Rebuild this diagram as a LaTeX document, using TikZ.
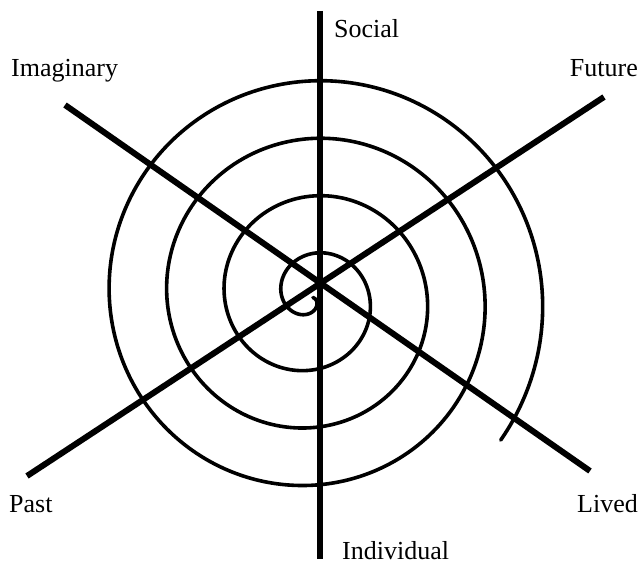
\documentclass[tikz,border=0pt]{standalone}
\usepackage{fontspec}
\setmainfont{Liberation Serif}
\begin{document}
\begin{tikzpicture}[x=1pt, y=1pt,
    axisline/.style={line width=6pt},
    spiralline/.style={line width=3.6pt, line cap=round},
    lbl/.style={inner sep=0pt, font=\fontsize{26}{30}\selectfont}]
    \useasboundingbox (0,0) rectangle (641,566);
    % spiral
    \draw[spiralline, domain=-85:1387, samples=600, smooth, variable=\t]
        plot ({311.5+(15+0.16*\t)*cos(-90-\t)}, {268.5+(15+0.16*\t)*sin(-90-\t)});
    % axes
    \coordinate (soc) at (320,555);
    \coordinate (ind) at (320,7);
    \coordinate (ima) at (65,461);
    \coordinate (liv) at (590,95);
    \coordinate (fut) at (604,469);
    \coordinate (pas) at (27,90);
    \draw[axisline] (soc) -- (ind);
    \draw[axisline] (ima) -- (liv);
    \draw[axisline] (fut) -- (pas);
    % labels
    \node[lbl, anchor=base west] (social) at (334,528) {Social};
    \node[lbl, anchor=base west] (imaginary) at (11,489) {Imaginary};
    \node[lbl, anchor=base east] (future) at (638,489) {Future};
    \node[lbl, anchor=base west] (past) at (9,53) {Past};
    \node[lbl, anchor=base east] (lived) at (638,53) {Lived};
    \node[lbl, anchor=base west] (individual) at (342,6) {Individual};
\end{tikzpicture}
\end{document}
